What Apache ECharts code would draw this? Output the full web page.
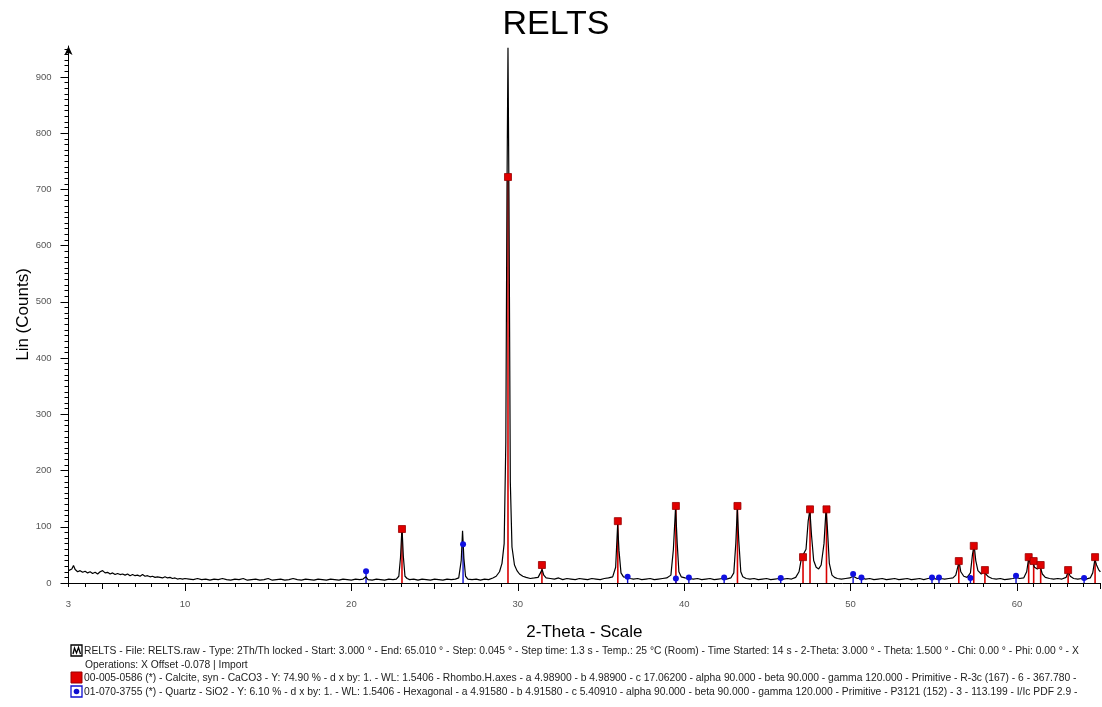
<!DOCTYPE html>
<html><head><meta charset="utf-8">
<script src="https://cdn.jsdelivr.net/npm/echarts@6/dist/echarts.min.js"></script>
<style>html,body{margin:0;padding:0;background:#fff}#c{width:1102px;height:707px}</style>
</head><body><div id="c"></div>
<script>
// Measured scan: [2-Theta (deg), Lin (Counts)]
const xrdScan = [
[3.00,22],[3.10,20],[3.20,25],[3.30,31],[3.40,24],[3.55,20],[3.70,22],[3.85,19],[4.00,21],[4.15,18],[4.30,20],[4.45,17],
[4.60,19],[4.75,16],[4.90,20],[5.05,22],[5.20,18],[5.35,19],[5.50,16],[5.65,18],[5.80,15],[5.95,17],[6.10,15],[6.25,16],
[6.40,14],[6.55,16],[6.70,13],[6.85,15],[7.00,13],[7.15,14],[7.30,12],[7.45,15],[7.60,12],[7.75,13],[7.90,11],[8.05,12],
[8.20,10],[8.35,11],[8.50,10],[8.65,9],[8.80,11],[8.95,9],[9.10,10],[9.25,8],[9.40,9],[9.55,7],[9.70,8],[9.85,7],[10.00,8],
[10.25,7],[10.50,6],[10.75,8],[11.00,6],[11.25,7],[11.50,5],[11.75,7],[12.00,6],[12.25,8],[12.50,6],[12.75,5],[13.00,7],
[13.25,6],[13.50,8],[13.75,5],[14.00,6],[14.25,7],[14.50,5],[14.75,6],[15.00,8],[15.25,5],[15.50,6],[15.75,7],[16.00,5],
[16.25,6],[16.50,8],[16.75,6],[17.00,5],[17.25,7],[17.50,6],[17.75,5],[18.00,7],[18.25,6],[18.50,5],[18.75,7],[19.00,6],
[19.25,5],[19.50,7],[19.75,6],[20.00,5],[20.25,7],[20.50,6],[20.70,7],[20.87,11],[21.00,6],[21.25,5],[21.50,7],[21.75,6],
[22.00,5],[22.25,7],[22.50,6],[22.70,7],[22.85,12],[22.95,45],[23.04,99],[23.12,48],[23.22,12],[23.35,8],[23.50,6],[23.75,7],
[24.00,5],[24.25,7],[24.50,6],[24.75,5],[25.00,7],[25.25,6],[25.50,5],[25.75,7],[26.00,6],[26.25,7],[26.45,9],[26.60,40],
[26.68,93],[26.76,44],[26.86,12],[27.00,7],[27.25,6],[27.50,7],[27.75,5],[28.00,7],[28.25,6],[28.50,9],[28.70,12],[28.90,20],
[29.05,35],[29.18,70],[29.28,250],[29.35,700],[29.41,952],[29.47,680],[29.55,180],[29.65,64],[29.80,32],[29.95,22],[30.10,16],
[30.30,12],[30.50,10],[30.75,8],[31.00,9],[31.22,10],[31.36,18],[31.46,24],[31.56,14],[31.70,9],[31.95,8],[32.20,7],[32.45,9],
[32.70,6],[32.95,8],[33.20,7],[33.45,6],[33.70,8],[33.95,7],[34.20,6],[34.45,8],[34.70,7],[34.95,6],[35.20,8],[35.45,9],
[35.70,11],[35.88,28],[36.00,104],[36.08,58],[36.20,18],[36.35,11],[36.58,10],[36.75,8],[36.95,7],[37.20,8],[37.45,6],
[37.70,7],[37.95,8],[38.20,6],[38.45,7],[38.70,8],[38.95,9],[39.20,14],[39.35,60],[39.48,134],[39.58,70],[39.68,20],
[39.82,11],[40.05,9],[40.30,8],[40.55,7],[40.80,8],[41.05,6],[41.30,7],[41.55,8],[41.80,6],[42.05,7],[42.30,8],[42.55,7],
[42.80,9],[42.98,18],[43.10,70],[43.19,132],[43.28,75],[43.40,20],[43.52,11],[43.72,8],[43.95,7],[44.20,8],[44.45,6],
[44.70,7],[44.95,8],[45.20,6],[45.45,7],[45.70,8],[45.95,7],[46.20,8],[46.45,7],[46.70,10],[46.90,20],[47.05,45],[47.16,48],
[47.32,60],[47.45,110],[47.55,130],[47.65,85],[47.78,40],[47.93,28],[48.08,25],[48.23,32],[48.40,70],[48.52,130],[48.60,100],
[48.72,35],[48.88,14],[49.03,10],[49.20,8],[49.45,7],[49.70,8],[49.95,9],[50.15,12],[50.40,8],[50.65,9],[50.90,7],[51.15,8],
[51.40,6],[51.65,7],[51.90,8],[52.15,6],[52.40,7],[52.65,8],[52.90,6],[53.15,7],[53.40,8],[53.65,6],[53.90,7],[54.15,8],
[54.40,6],[54.65,8],[54.90,9],[55.15,7],[55.40,8],[55.65,7],[55.90,8],[56.15,9],[56.32,14],[56.45,30],[56.52,38],[56.62,20],
[56.80,12],[57.00,10],[57.20,18],[57.32,50],[57.42,68],[57.52,40],[57.65,22],[57.85,16],[58.00,20],[58.10,18],[58.28,11],
[58.50,8],[58.75,7],[59.00,8],[59.25,6],[59.50,7],[59.75,8],[59.95,10],[60.15,8],[60.40,9],[60.58,20],[60.70,44],[60.80,34],
[60.95,36],[61.05,28],[61.22,25],[61.40,28],[61.52,16],[61.70,10],[61.95,8],[62.20,7],[62.45,8],[62.70,7],[62.95,10],
[63.07,20],[63.20,12],[63.40,8],[63.65,7],[63.90,8],[64.15,7],[64.40,9],[64.55,18],[64.68,42],[64.78,32],[64.90,24],[65.01,20]
];
// Reference patterns (stick positions / intensities)
const calciteTheta  = [23.04, 29.41, 31.45, 36.01, 39.50, 43.20, 47.14, 47.56, 48.55, 56.50, 57.40, 58.07, 60.70, 61.00, 61.42, 63.07, 64.69];
const calciteCounts = [96, 722, 32, 110, 137, 137, 46, 131, 131, 39, 66, 23, 46, 39, 32, 23, 46];
const quartzTheta   = [20.88, 26.71, 36.60, 39.50, 40.28, 42.40, 45.80, 50.15, 50.65, 54.89, 55.31, 57.20, 59.94, 64.03];
const quartzCounts  = [21, 69, 11, 8, 10, 10, 9, 16, 10, 10, 10, 9, 13, 9];
// Axis labels
const xTickLabels = [3, 10, 20, 30, 40, 50, 60];
const yTickLabels = [0, 100, 200, 300, 400, 500, 600, 700, 800, 900];
const titleText = 'RELTS';
const legendLines = [
 'RELTS - File: RELTS.raw - Type: 2Th/Th locked - Start: 3.000 ° - End: 65.010 ° - Step: 0.045 ° - Step time: 1.3 s - Temp.: 25 °C (Room) - Time Started: 14 s - 2-Theta: 3.000 ° - Theta: 1.500 ° - Chi: 0.00 ° - Phi: 0.00 ° - X',
 'Operations: X Offset -0.078 | Import',
 '00-005-0586 (*) - Calcite, syn - CaCO3 - Y: 74.90 % - d x by: 1. - WL: 1.5406 - Rhombo.H.axes - a 4.98900 - b 4.98900 - c 17.06200 - alpha 90.000 - beta 90.000 - gamma 120.000 - Primitive - R-3c (167) - 6 - 367.780 -',
 '01-070-3755 (*) - Quartz - SiO2 - Y: 6.10 % - d x by: 1. - WL: 1.5406 - Hexagonal - a 4.91580 - b 4.91580 - c 5.40910 - alpha 90.000 - beta 90.000 - gamma 120.000 - Primitive - P3121 (152) - 3 - 113.199 - I/Ic PDF 2.9 -'
];

const X_MIN = 3, X_MAX = 65.01, Y_MAX = 955;
const FONT = 'Liberation Sans, Arial, sans-serif';
const ticks10 = [], ticks5 = [], ticks1 = [];
for (let v = 3; v <= 65; v++) {
  if (v % 10 === 0) ticks10.push(v); else if (v % 5 === 0) ticks5.push(v); else ticks1.push(v);
}
const yMinor = [];
for (let v = 0; v <= 950; v += 10) if (v % 100 !== 0) yMinor.push(v);

function xAx(ticks, len, showLine, showLabel) {
  return {
    type: 'value', min: X_MIN, max: X_MAX, position: 'bottom', gridIndex: 0,
    splitLine: { show: false },
    axisLine: { show: showLine, lineStyle: { color: '#000', width: 1 } },
    axisTick: { show: true, customValues: ticks, length: len, lineStyle: { color: '#000', width: 1 } },
    axisLabel: showLabel ? { show: true, customValues: xTickLabels, margin: 16, fontSize: 9.5, color: '#555', fontFamily: FONT } : { show: false }
  };
}
function yAx(ticks, len, showLine, showLabel) {
  return {
    type: 'value', min: 0, max: Y_MAX, position: 'left', gridIndex: 0,
    splitLine: { show: false },
    axisLine: { show: showLine, symbol: ['none', 'arrow'], symbolSize: [6, 9], lineStyle: { color: '#000', width: 1 } },
    axisTick: { show: true, customValues: ticks, length: len, lineStyle: { color: '#000', width: 1 } },
    axisLabel: showLabel ? { show: true, customValues: yTickLabels, margin: 17, fontSize: 9.5, color: '#555', fontFamily: FONT } : { show: false }
  };
}
function sticks(name, theta, cnt, color, width) {
  return {
    type: 'custom', name: name, silent: true, animation: false, z: 2,
    data: theta.map((t, i) => [t, cnt[i]]),
    renderItem: function (params, api) {
      const p0 = api.coord([api.value(0), 0]);
      const p1 = api.coord([api.value(0), api.value(1)]);
      return { type: 'line', shape: { x1: p0[0], y1: p0[1], x2: p1[0], y2: p1[1] }, style: { stroke: color, lineWidth: width } };
    }
  };
}

const chart = echarts.init(document.getElementById('c'), null, { renderer: 'canvas' });
chart.setOption({
  backgroundColor: '#fff',
  animation: false,
  title: { text: titleText, left: 551, top: 3, textAlign: 'center', textStyle: { fontSize: 34, fontWeight: 'normal', color: '#000', fontFamily: FONT } },
  grid: { left: 68.5, right: 1.6, top: 46, bottom: 124, containLabel: false, outerBoundsMode: 'none' },
  xAxis: [
    Object.assign(xAx(ticks10, 8, true, true), { name: '2-Theta - Scale', nameLocation: 'middle', nameGap: 41, nameMoveOverlap: false, nameTextStyle: { fontSize: 17, color: '#000', fontFamily: FONT } }),
    xAx(ticks5, 6, false, false),
    xAx(ticks1, 4, false, false)
  ],
  yAxis: [
    Object.assign(yAx(yTickLabels, 8, true, true), { name: 'Lin (Counts)', nameLocation: 'middle', nameGap: 37, nameMoveOverlap: false, nameTextStyle: { fontSize: 17, color: '#000', fontFamily: FONT } }),
    yAx(yMinor, 4, false, false)
  ],
  series: [
    sticks('Calcite', calciteTheta, calciteCounts, '#d80000', 1.6),
    sticks('Quartz', quartzTheta, quartzCounts, '#1010d0', 1.4),
    {
      type: 'line', name: 'RELTS', data: xrdScan, showSymbol: false, z: 3,
      lineStyle: { color: '#000', width: 1.2 }, silent: true
    },
    {
      type: 'scatter', name: 'Calcite marks', data: calciteTheta.map((t, i) => [t, calciteCounts[i]]), z: 4,
      symbol: 'rect', symbolSize: 7, itemStyle: { color: '#e00000', borderColor: '#900', borderWidth: 0.8, opacity: 1 }, silent: true
    },
    {
      type: 'scatter', name: 'Quartz marks', data: quartzTheta.map((t, i) => [t, quartzCounts[i]]), z: 4,
      symbol: 'circle', symbolSize: 6, itemStyle: { color: '#1010e0', opacity: 1 }, silent: true
    }
  ],
  graphic: [
    { type: 'rect', shape: { x: 71, y: 645, width: 11, height: 11 }, style: { fill: '#fff', stroke: '#000', lineWidth: 1.3 } },
    { type: 'polyline', shape: { points: [[73, 654], [74.5, 648], [76.5, 653], [78.5, 647.5], [80.5, 654]] }, style: { stroke: '#000', lineWidth: 1.3, fill: null } },
    { type: 'rect', shape: { x: 71, y: 672, width: 11, height: 11 }, style: { fill: '#e00000', stroke: '#900', lineWidth: 1 } },
    { type: 'rect', shape: { x: 71, y: 686, width: 11, height: 11 }, style: { fill: '#fff', stroke: '#1010d0', lineWidth: 1.3 } },
    { type: 'circle', shape: { cx: 76.5, cy: 691.5, r: 2.8 }, style: { fill: '#1010d0' } },
    { type: 'text', x: 84, y: 651, style: { text: legendLines[0], font: '10.3px ' + FONT, fill: '#222', verticalAlign: 'middle' } },
    { type: 'text', x: 85, y: 665, style: { text: legendLines[1], font: '10.3px ' + FONT, fill: '#222', verticalAlign: 'middle' } },
    { type: 'text', x: 84, y: 678, style: { text: legendLines[2], font: '10.3px ' + FONT, fill: '#222', verticalAlign: 'middle' } },
    { type: 'text', x: 84, y: 692, style: { text: legendLines[3], font: '10.3px ' + FONT, fill: '#222', verticalAlign: 'middle' } }
  ]
});
</script></body></html>
